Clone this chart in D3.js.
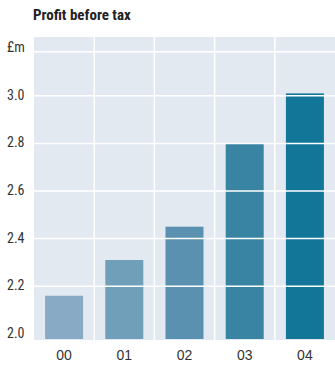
<!DOCTYPE html>
<html>
<head>
<meta charset="utf-8">
<script src="https://cdn.jsdelivr.net/npm/d3@7"></script>
<style>
  body { margin: 0; background: #fff; }
  text { font-family: "Liberation Sans Narrow", "Roboto Condensed", Arial, sans-serif; fill: #333; }
</style>
</head>
<body>
<div id="chart"></div>
<script>
// profit before tax, £m
var years = ["00", "01", "02", "03", "04"];
var profit = [2.16, 2.31, 2.45, 2.80, 3.01];
var barColors = ["#88aac4", "#709fba", "#5b91b0", "#3a84a3", "#127698"];
var tickValues = [2.0, 2.2, 2.4, 2.6, 2.8, 3.0];

var width = 335, height = 365;
var plotLeft = 34, plotRight = 335, plotTop = 37, plotBottom = 340;

var svg = d3.select("#chart")
  .append("svg")
  .attr("width", width)
  .attr("height", height);

svg.append("text")
  .attr("x", 33)
  .attr("y", 20)
  .style("font-size", "15px")
  .style("font-weight", "bold")
  .style("fill", "#222")
  .text("Profit before tax");

var x = d3.scaleBand()
  .domain(years)
  .range([plotLeft, plotRight])
  .paddingInner(0)
  .paddingOuter(0);

var y = d3.scaleLinear()
  .domain([1.974, 3.247])
  .range([plotBottom, plotTop]);

// background panel
svg.append("rect")
  .attr("x", plotLeft)
  .attr("y", plotTop)
  .attr("width", plotRight - plotLeft)
  .attr("height", plotBottom - plotTop)
  .attr("fill", "#e2e9f0");

// vertical separators between years
svg.selectAll("line.vsep")
  .data(years.slice(1))
  .enter()
  .append("line")
  .attr("class", "vsep")
  .attr("x1", function(d) { return x(d); })
  .attr("x2", function(d) { return x(d); })
  .attr("y1", plotTop)
  .attr("y2", plotBottom)
  .attr("stroke", "#fff")
  .attr("stroke-width", 1.5);

// bars
var barW = 38;
svg.selectAll("rect.bar")
  .data(profit)
  .enter()
  .append("rect")
  .attr("class", "bar")
  .attr("x", function(d, i) { return x(years[i]) + x.bandwidth() / 2 - barW / 2; })
  .attr("y", function(d) { return y(d); })
  .attr("width", barW)
  .attr("height", function(d) { return plotBottom - 1 - y(d); })
  .attr("fill", function(d, i) { return barColors[i]; });

// horizontal grid lines, drawn over the bars
var unitLine = y(3.185);
svg.selectAll("line.hgrid")
  .data(tickValues.slice(1))
  .enter()
  .append("line")
  .attr("class", "hgrid")
  .attr("x1", plotLeft)
  .attr("x2", plotRight)
  .attr("y1", function(d) { return y(d); })
  .attr("y2", function(d) { return y(d); })
  .attr("stroke", "#fff")
  .attr("stroke-width", 1.5);

svg.append("line")
  .attr("x1", plotLeft).attr("x2", plotRight)
  .attr("y1", unitLine).attr("y2", unitLine)
  .attr("stroke", "#fff")
  .attr("stroke-width", 1.5);

// y labels
svg.selectAll("text.ylab")
  .data(tickValues)
  .enter()
  .append("text")
  .attr("class", "ylab")
  .attr("x", 7)
  .attr("y", function(d) { return y(d) + 4; })
  .style("font-size", "14px")
  .text(function(d) { return d3.format(".1f")(d); });

svg.append("text")
  .attr("x", 7)
  .attr("y", unitLine)
  .style("font-size", "14px")
  .text("£m");

// x labels
var xAxis = svg.append("g")
  .attr("transform", "translate(0," + plotBottom + ")")
  .call(d3.axisBottom(x).tickSize(0).tickPadding(10));
xAxis.select(".domain").remove();
xAxis.selectAll("text")
  .style("font-size", "14px")
  .style("font-family", "\"Liberation Sans Narrow\", Arial, sans-serif")
  .attr("fill", "#333");
</script>
</body>
</html>
